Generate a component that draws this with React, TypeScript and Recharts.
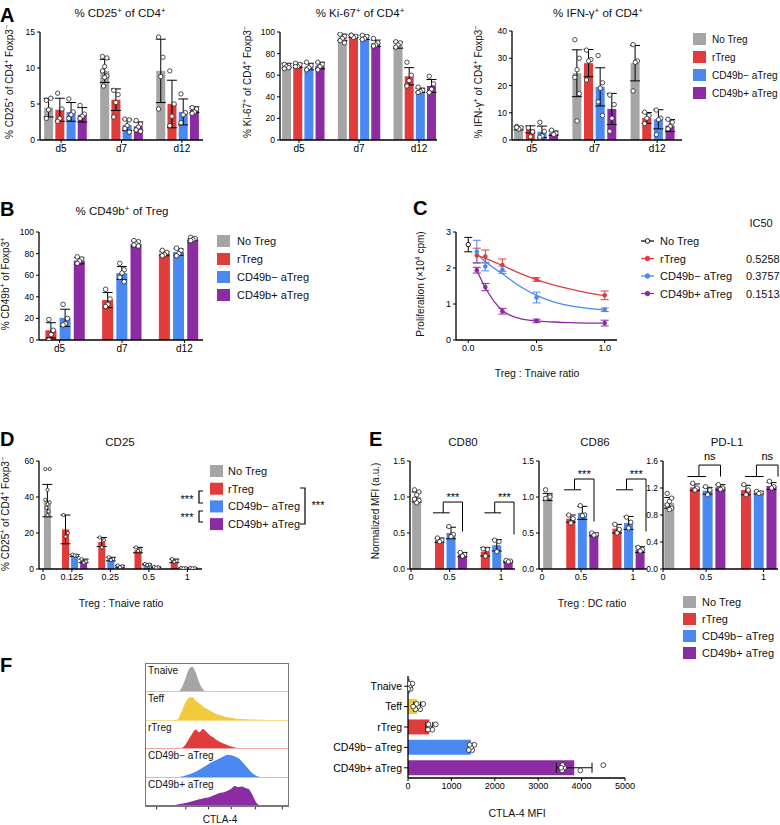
import React from 'react';
import {
  ComposedChart, Bar, Cell, ErrorBar, Scatter, Line, XAxis, YAxis, ReferenceLine, AreaChart, Area,
} from 'recharts';

const FONT = '"Liberation Sans", Arial, Helvetica, sans-serif';
const GRAY = '#a5a5a5';
const RED = '#e03c3b';
const BLUE = '#4a88f2';
const PURPLE = '#8b2ca2';
const YELLOW = '#f3ca3c';

const SERIES = ['No Treg', 'rTreg', 'CD49b− aTreg', 'CD49b+ aTreg'];
const SERIES_COLORS = [GRAY, RED, BLUE, PURPLE];

// ---- A ----
const DAYS = ['d5', 'd7', 'd12'];

const cd25Mean = [[4.5, 9.6, 9.6], [4.2, 5.6, 5.0], [3.9, 2.1, 3.9], [3.5, 1.9, 4.2]];
const cd25Sd = [[1.3, 1.6, 4.4], [1.6, 1.5, 3.3], [1.3, 0.8, 1.8], [1.0, 0.6, 0.4]];
const cd25Reps = [
  [[5.5, 5.8, 4.2, 3.0], [11.6, 11.4, 10.2, 9.6, 8.9, 8.7, 7.5], [14.3, 11.5, 8.8, 4.3]],
  [[6.5, 4.3, 3.0, 2.6], [6.9, 6.3, 5.2, 3.2], [9.6, 5.0, 3.3, 2.0]],
  [[5.7, 3.9, 3.5, 3.0], [2.9, 2.8, 2.0, 1.6, 1.1], [6.4, 3.8, 3.5, 2.4]],
  [[4.8, 3.6, 3.3, 3.0], [2.7, 2.2, 1.8, 1.4, 1.2], [4.5, 4.3, 3.9, 3.7]],
];

const ki67Mean = [[69, 95, 88], [69, 96, 59], [68, 95, 46], [69, 89.5, 50]];
const ki67Sd = [[2, 3, 3], [2, 1, 8], [3, 2, 2], [3, 3, 6]];
const ki67Reps = [
  [[70, 69, 68, 66, 67], [98, 96, 94, 92, 90], [91, 90, 88, 86]],
  [[71, 70, 68, 68], [97, 96, 95, 97], [72, 60, 55, 50]],
  [[72, 69, 67, 65], [97, 96, 94, 93], [49, 46, 45, 44]],
  [[72, 70, 68, 65], [94, 90, 88, 87], [59, 52, 47, 44]],
];

const ifngMean = [[4.3, 24.5, 28.2], [3.9, 28.2, 8.1], [3.0, 19.5, 7.6], [2.5, 11.4, 5.3]];
const ifngSd = [[0.6, 8.6, 6.5], [1.3, 5, 2], [2.1, 7, 3.5], [0.8, 5.7, 2.2]];
const ifngReps = [
  [[5.0, 4.5, 4.0, 4.6], [36.8, 30, 25.8, 23, 17, 7], [35, 29, 28.5, 18]],
  [[4.5, 3.0, 1.2], [33, 29.5, 29, 22], [10.2, 9, 8, 6]],
  [[6.5, 3.2, 1.5, 1.0], [31, 21, 19, 14, 9], [11, 8, 7.5, 2]],
  [[3.6, 2.5, 2.0], [16.5, 13, 8, 3.2], [7.6, 6.5, 5, 4.1]],
];

// ---- B ----
const cd49Mean = [[null, null, null], [9, 37, 80], [20.5, 62, 81.5], [73.5, 89, 93]];
const cd49Sd = [[null, null, null], [7, 7, 2], [8, 6, 3], [3, 2.5, 1]];
const cd49Reps = [
  [[], [], []],
  [[19, 9, 5, 0], [47, 38, 33, 31], [83, 81, 79, 78]],
  [[33, 20, 15, 14], [71, 65, 62, 58, 54], [85, 83, 80, 78]],
  [[77, 75, 73, 71], [92, 91, 89, 88, 87], [95, 94, 93, 92]],
];

// ---- C ----
const C_RATIOS = [0.0625, 0.125, 0.25, 0.5, 1];
const C_NOTREG = [2.65];
const C_NOTREG_ERR = [0.2];
const C_RTREG = [2.35, 2.32, 2.08, 1.68, 1.24];
const C_RTREG_ERR = [0.2, 0.18, 0.17, 0.05, 0.12];
const C_NEG = [2.45, 2.04, 1.95, 1.18, 0.84];
const C_NEG_ERR = [0.32, 0.12, 0.1, 0.15, 0.05];
const C_POS = [1.94, 1.47, 0.8, 0.53, 0.47];
const C_POS_ERR = [0.08, 0.1, 0.08, 0.05, 0.08];
const FIT_X = [0.0625, 0.125, 0.1875, 0.25, 0.375, 0.5, 0.625, 0.75, 0.875, 1];
const FIT_RTREG = [2.36, 2.27, 2.17, 2.07, 1.86, 1.68, 1.53, 1.41, 1.31, 1.23];
const FIT_NEG = [2.38, 2.18, 2.0, 1.84, 1.5, 1.24, 1.06, 0.95, 0.88, 0.84];
const FIT_POS = [1.94, 1.45, 1.08, 0.82, 0.6, 0.53, 0.5, 0.48, 0.47, 0.47];
const IC50 = ['', '0.5258', '0.3757', '0.1513'];

// ---- D ----
const D_RATIOS = ['0', '0.125', '0.25', '0.5', '1'];
const dMean = [[38, null, null, null, null], [null, 22, 15, 10.5, 4.5], [null, 7.5, 5.5, 2.5, 0.5], [null, 4.5, 1.5, 1, 0.5]];
const dSd = [[9, null, null, null, null], [null, 8, 2.5, 1.5, 1], [null, 0.5, 1, 0.3, 0.1], [null, 1, 0.5, 0.2, 0.1]];
const dReps = [
  [[55.5, 55.5, 44, 38.5, 37, 36, 34, 32, 30], [], [], [], []],
  [[], [30, 20, 18], [17.5, 16, 12], [12, 10.5, 10], [5.5, 4.5, 4]],
  [[], [8, 7.5, 7.5], [6.5, 5.5, 5], [2.8, 2.5, 2.2], [0.6, 0.5, 0.4]],
  [[], [5.5, 4.2, 3.5], [2, 1.5, 1], [1.2, 1, 0.8], [0.6, 0.5, 0.4]],
];

// ---- E ----
const E_RATIOS = ['0', '0.5', '1'];
const cd80Mean = [[1.0, null, null], [null, 0.4, 0.24], [null, 0.5, 0.33], [null, 0.2, 0.1]];
const cd80Sd = [[0.07, null, null], [null, 0.03, 0.06], [null, 0.08, 0.08], [null, 0.03, 0.01]];
const cd80Reps = [
  [[1.1, 1.07, 1.03, 0.97, 0.95, 0.92], [], []],
  [[], [0.43, 0.4, 0.38], [0.28, 0.27, 0.18]],
  [[], [0.59, 0.48, 0.45], [0.4, 0.38, 0.24]],
  [[], [0.23, 0.2, 0.18], [0.12, 0.11, 0.1]],
];
const cd86Mean = [[1.0, null, null], [null, 0.7, 0.56], [null, 0.78, 0.64], [null, 0.48, 0.27]];
const cd86Sd = [[0.05, null, null], [null, 0.05, 0.06], [null, 0.09, 0.09], [null, 0.02, 0.04]];
const cd86Reps = [
  [[1.1, 1.02, 0.99, 0.98, 1.0], [], []],
  [[], [0.75, 0.7, 0.64], [0.62, 0.55, 0.5]],
  [[], [0.88, 0.75, 0.74], [0.72, 0.65, 0.57]],
  [[], [0.5, 0.48, 0.47], [0.3, 0.27, 0.25]],
];
const pdl1Mean = [[0.98, null, null], [null, 1.21, 1.17], [null, 1.16, 1.13], [null, 1.21, 1.23]];
const pdl1Sd = [[0.08, null, null], [null, 0.05, 0.07], [null, 0.05, 0.02], [null, 0.04, 0.05]];
const pdl1Reps = [
  [[1.12, 1.05, 1.0, 0.95, 0.9, 0.88], [], []],
  [[], [1.27, 1.2, 1.17], [1.25, 1.17, 1.1]],
  [[], [1.22, 1.17, 1.1], [1.15, 1.13, 1.12]],
  [[], [1.25, 1.2, 1.18], [1.3, 1.22, 1.2]],
];
const CD80_BRACKETS = [
  { group: 1, low: 0.78, high: 0.93, drop: 0.52, text: '***' },
  { group: 2, low: 0.78, high: 0.93, drop: 0.48, text: '***' },
];
const CD86_BRACKETS = [
  { group: 1, low: 1.1, high: 1.25, drop: 0.66, text: '***' },
  { group: 2, low: 1.1, high: 1.25, drop: 0.52, text: '***' },
];
const PDL1_BRACKETS = [
  { group: 1, low: 1.37, high: 1.54, drop: 1.37, text: 'ns' },
  { group: 2, low: 1.37, high: 1.54, drop: 1.37, text: 'ns' },
];

// ---- F ----
const F_CELLS = ['Tnaive', 'Teff', 'rTreg', 'CD49b− aTreg', 'CD49b+ aTreg'];
const F_COLORS = [GRAY, YELLOW, RED, BLUE, PURPLE];
const F_LINE = ['#c8c8c8', '#f3dc8c', '#f0a5a5', '#a9c6f5', '#777'];
const F_MFI = [50, 210, 490, 1450, 3830];
const F_SD = [40, 80, 80, 50, 410];
const F_REPS = [
  [100, 60, 30, 10, 0],
  [350, 280, 230, 200, 170, 120],
  [640, 560, 480, 470, 460],
  [1530, 1480, 1450, 1420, 1400],
  [4500, 3970, 3600, 3560, 3550, 3530],
];
const HIST_X = Array.from({ length: 41 }, (_, i) => i * 2.5);
const HIST = [
  [0, 0, 0, 0, 0, 0, 0, 0, 0, 0.03, 0.15, 0.45, 0.8, 0.9, 0.7, 0.35, 0.12, 0.03, 0, 0, 0, 0, 0, 0, 0, 0, 0, 0, 0, 0, 0, 0, 0, 0, 0, 0, 0, 0, 0, 0, 0],
  [0, 0, 0, 0, 0, 0, 0, 0, 0, 0.05, 0.3, 0.6, 0.78, 0.82, 0.7, 0.6, 0.5, 0.42, 0.35, 0.28, 0.22, 0.18, 0.14, 0.11, 0.09, 0.07, 0.06, 0.05, 0.04, 0.035, 0.03, 0.025, 0.02, 0.02, 0.015, 0.012, 0.01, 0.008, 0.005, 0.003, 0],
  [0, 0, 0, 0, 0, 0, 0, 0, 0, 0, 0.04, 0.15, 0.35, 0.55, 0.7, 0.6, 0.72, 0.62, 0.5, 0.42, 0.32, 0.25, 0.2, 0.15, 0.1, 0.07, 0.04, 0.02, 0.01, 0, 0, 0, 0, 0, 0, 0, 0, 0, 0, 0, 0],
  [0, 0, 0, 0, 0, 0, 0, 0, 0, 0, 0.03, 0.06, 0.1, 0.15, 0.2, 0.27, 0.35, 0.42, 0.5, 0.56, 0.62, 0.68, 0.75, 0.8, 0.78, 0.74, 0.68, 0.56, 0.42, 0.28, 0.15, 0.06, 0.02, 0, 0, 0, 0, 0, 0, 0, 0],
  [0, 0, 0, 0, 0, 0.01, 0.02, 0.03, 0.05, 0.07, 0.09, 0.12, 0.15, 0.18, 0.22, 0.25, 0.28, 0.3, 0.33, 0.38, 0.44, 0.48, 0.5, 0.55, 0.62, 0.72, 0.68, 0.7, 0.65, 0.6, 0.4, 0.15, 0.04, 0, 0, 0, 0, 0, 0, 0, 0],
];
const HIST_TICKS = [0, 1.5, 3, 4.5, 6, 7.5, 17, 25, 28, 31, 33, 35, 36, 37, 38, 39, 41, 44, 57, 60, 64, 66, 68, 70, 72, 73, 77, 85, 88, 90, 92, 96];

const JITTER = [-2.2, 2.2, 0, -2.2, 2.2, 0, -1.1, 1.1, 0];

const axisLine = { stroke: '#000', strokeWidth: 1.3 };
const tickLine = { stroke: '#000', strokeWidth: 1 };

function buildSlots(groups, means, sds, reps) {
  const rows = [];
  const centers = [];
  const starts = [];
  groups.forEach((g, gi) => {
    if (gi > 0) rows.push({ id: 'gap' + gi, mean: null, sd: null, color: 'none' });
    const first = rows.length;
    means.forEach((m, si) => {
      if (m[gi] == null) return;
      const row = { id: g + '_' + si, mean: m[gi], sd: sds[si][gi], color: SERIES_COLORS[si] };
      reps[si][gi].forEach((v, ri) => { row['r' + ri] = v; });
      rows.push(row);
    });
    starts.push(first);
    centers.push((first + rows.length - 1) / 2);
  });
  return { rows, centers, starts };
}

function dot(i, r, vertical) {
  return (p) => {
    if (!Number.isFinite(p.cx) || !Number.isFinite(p.cy)) return <g />;
    const j = JITTER[i % JITTER.length];
    return (
      <circle
        cx={vertical ? p.cx : p.cx + j}
        cy={vertical ? p.cy + j * 1.2 : p.cy}
        r={r}
        fill="#fff"
        stroke="#222"
        strokeWidth={0.8}
      />
    );
  };
}

function SlotBars({ box, groups, means, sds, reps, yDomain, yTicks, yFmt, dotR = 2.2, brackets = [], padTop = 6, catFont = 10, padL = 0, padR = 0 }) {
  const { rows, centers, starts } = buildSlots(groups, means, sds, reps);
  const n = rows.length;
  const yW = 26, xH = 20, pad = 6;
  const width = box.x1 - box.x0 + yW + pad * 2;
  const height = box.y1 - box.y0 + padTop + xH;
  const maxReps = Math.max(...reps.flat().map((r) => r.length));
  const xPad = { left: padL, right: padR };
  return (
    <div style={{ position: 'absolute', left: box.x0 - yW - pad, top: box.y0 - padTop }}>
      <ComposedChart width={width} height={height} data={rows} margin={{ top: padTop, right: pad, bottom: 0, left: pad }} barCategoryGap="10%">
        <XAxis dataKey="id" hide height={0} padding={xPad} />
        <XAxis
          xAxisId="n"
          type="number"
          domain={[-0.5, n - 0.5]}
          allowDataOverflow
          padding={xPad}
          ticks={centers}
          tickFormatter={(v) => groups[centers.indexOf(v)] ?? ''}
          axisLine={axisLine}
          tickLine={tickLine}
          tickSize={3}
          height={xH}
          tick={{ fontSize: catFont, fill: '#000', fontFamily: FONT }}
        />
        <YAxis
          type="number"
          domain={yDomain}
          ticks={yTicks}
          allowDataOverflow
          tickFormatter={yFmt}
          width={yW}
          axisLine={axisLine}
          tickLine={tickLine}
          tickSize={3}
          tick={{ fontSize: 8.5, fill: '#000', fontFamily: FONT }}
        />
        <Bar dataKey="mean" isAnimationActive={false}>
          {rows.map((r) => <Cell key={r.id} fill={r.color} />)}
          <ErrorBar dataKey="sd" width={5} stroke="#000" strokeWidth={1} />
        </Bar>
        {Array.from({ length: maxReps }).map((_, i) => (
          <Scatter key={i} dataKey={'r' + i} isAnimationActive={false} shape={dot(i, dotR, false)} />
        ))}
        {brackets.map((b, bi) => {
          const s = starts[b.group];
          const seg = (x1, y1, x2, y2, label) => (
            <ReferenceLine
              xAxisId="n"
              segment={[{ x: x1, y: y1 }, { x: x2, y: y2 }]}
              stroke="#000"
              strokeWidth={1}
              ifOverflow="visible"
              label={label ? { value: label, position: 'top', offset: label === 'ns' ? 5 : 1, fontSize: 11, fill: '#000', fontFamily: FONT } : undefined}
            />
          );
          return (
            <React.Fragment key={bi}>
              {seg(s - 0.3, b.low, s + 1, b.low)}
              {seg(s + 0.5, b.low, s + 0.5, b.high)}
              {seg(s + 0.5, b.high, s + 2, b.high, b.text)}
              {seg(s + 2, b.high, s + 2, b.drop)}
            </React.Fragment>
          );
        })}
      </ComposedChart>
    </div>
  );
}

function ProliferationChart() {
  const box = { x0: 456, x1: 617, y0: 232, y1: 340 };
  const yW = 22, xH = 20, pad = 6;
  const pts = (vals, errs, xs) => vals.map((y, i) => ({ x: xs[i], y, err: errs[i] }));
  const fit = (vals) => vals.map((y, i) => ({ x: FIT_X[i], y }));
  const series = [
    { color: RED, data: pts(C_RTREG, C_RTREG_ERR, C_RATIOS), fit: fit(FIT_RTREG) },
    { color: BLUE, data: pts(C_NEG, C_NEG_ERR, C_RATIOS), fit: fit(FIT_NEG) },
    { color: PURPLE, data: pts(C_POS, C_POS_ERR, C_RATIOS), fit: fit(FIT_POS) },
  ];
  return (
    <div style={{ position: 'absolute', left: box.x0 - yW - pad, top: box.y0 - pad }}>
      <ComposedChart width={box.x1 - box.x0 + yW + 2 * pad} height={box.y1 - box.y0 + pad + xH} margin={{ top: pad, right: pad, bottom: 0, left: pad }}>
        <XAxis
          dataKey="x"
          type="number"
          domain={[-0.09, 1.09]}
          allowDataOverflow
          ticks={[0, 0.5, 1]}
          tickFormatter={(v) => v.toFixed(1)}
          axisLine={axisLine}
          tickLine={tickLine}
          tickSize={3}
          height={xH}
          tick={{ fontSize: 9, fill: '#000', fontFamily: FONT }}
        />
        <YAxis
          type="number"
          domain={[0, 3]}
          ticks={[0, 1, 2, 3]}
          allowDataOverflow
          width={yW}
          axisLine={axisLine}
          tickLine={tickLine}
          tickSize={3}
          tick={{ fontSize: 9, fill: '#000', fontFamily: FONT }}
        />
        {series.map((s, i) => (
          <Line key={'l' + i} data={s.fit} dataKey="y" type="monotone" stroke={s.color} strokeWidth={1.3} dot={false} isAnimationActive={false} />
        ))}
        {series.map((s, i) => (
          <Scatter
            key={'s' + i}
            data={s.data}
            dataKey="y"
            isAnimationActive={false}
            shape={(p) => <circle cx={p.cx} cy={p.cy} r={2.3} fill={s.color} />}
          >
            <ErrorBar dataKey="err" direction="y" width={4} stroke={s.color} strokeWidth={1} />
          </Scatter>
        ))}
        <Scatter
          data={pts(C_NOTREG, C_NOTREG_ERR, [0])}
          dataKey="y"
          isAnimationActive={false}
          shape={(p) => <circle cx={p.cx} cy={p.cy} r={2.2} fill="#fff" stroke="#000" strokeWidth={0.9} />}
        >
          <ErrorBar dataKey="err" direction="y" width={4} stroke="#000" strokeWidth={1} />
        </Scatter>
      </ComposedChart>
    </div>
  );
}

function MfiChart() {
  const box = { x0: 408, x1: 625, y0: 676, y1: 778 };
  const yW = 100, xH = 20, pad = 6;
  const rows = F_CELLS.map((name, i) => {
    const row = { name, mean: F_MFI[i], sd: F_SD[i] };
    F_REPS[i].forEach((v, ri) => { row['r' + ri] = v; });
    return row;
  });
  const maxReps = Math.max(...F_REPS.map((r) => r.length));
  return (
    <div style={{ position: 'absolute', left: box.x0 - yW - pad, top: box.y0 - pad }}>
      <ComposedChart
        layout="vertical"
        width={box.x1 - box.x0 + yW + 2 * pad + 6}
        height={box.y1 - box.y0 + pad + xH}
        data={rows}
        margin={{ top: pad, right: pad + 6, bottom: 0, left: pad }}
        barCategoryGap="13%"
      >
        <XAxis
          type="number"
          domain={[0, 5000]}
          ticks={[0, 1000, 2000, 3000, 4000, 5000]}
          allowDataOverflow
          axisLine={axisLine}
          tickLine={tickLine}
          tickSize={3}
          height={xH}
          tick={{ fontSize: 9, fill: '#000', fontFamily: FONT }}
        />
        <YAxis
          type="category"
          dataKey="name"
          width={yW}
          axisLine={axisLine}
          tickLine={tickLine}
          tickSize={4}
          tick={{ fontSize: 10.5, fill: '#000', fontFamily: FONT }}
        />
        <Bar dataKey="mean" isAnimationActive={false}>
          {rows.map((r, i) => <Cell key={r.name} fill={F_COLORS[i]} />)}
          <ErrorBar dataKey="sd" direction="x" width={5} stroke="#000" strokeWidth={1} />
        </Bar>
        {Array.from({ length: maxReps }).map((_, i) => (
          <Scatter key={i} dataKey={'r' + i} isAnimationActive={false} shape={dot(i, 2.4, true)} />
        ))}
      </ComposedChart>
    </div>
  );
}

function Histograms() {
  const left = 146, top = 664, w = 142, rowH = 28.4;
  return (
    <div style={{ position: 'absolute', left, top, width: w, height: rowH * 5 }}>
      {HIST.map((h, i) => {
        const data = HIST_X.map((x, k) => ({ x, h: h[k] }));
        const last = i === HIST.length - 1;
        return (
          <div key={i} style={{ position: 'absolute', left: 0, top: i * rowH }}>
            <AreaChart width={w} height={rowH + (last ? 6 : 0)} data={data} margin={{ top: 0, right: 0, bottom: 0, left: 0 }}>
              <XAxis
                dataKey="x"
                type="number"
                domain={[0, 100]}
                hide={!last}
                height={last ? 6 : 0}
                ticks={HIST_TICKS}
                tick={() => <g />}
                axisLine={false}
                tickLine={{ stroke: '#222', strokeWidth: 1 }}
                tickSize={3}
              />
              <YAxis type="number" domain={[0, 1]} hide />
              <Area dataKey="h" type="monotone" stroke="none" fill={F_COLORS[i]} fillOpacity={1} isAnimationActive={false} />
            </AreaChart>
            <div
              style={{
                position: 'absolute', left: 0, top: rowH - 1, width: w, height: 1,
                background: F_LINE[i],
              }}
            />
            <div
              style={{
                position: 'absolute', left: 2, top: 1, fontSize: 10, fontFamily: FONT, color: '#111', whiteSpace: 'nowrap',
              }}
            >
              {F_CELLS[i]}
            </div>
          </div>
        );
      })}
      <div style={{ position: 'absolute', left: -1, top: -1, width: w, height: rowH * 5, border: '1px solid #777' }} />
    </div>
  );
}

function Rich({ x, y, text, size, anchor = 'middle', rotate = false, weight = 'normal' }) {
  const parts = text.split(/(\{[^}]*\})/).filter(Boolean);
  const sh = size * 0.38;
  let up = false;
  const spans = parts.map((p, i) => {
    if (p.startsWith('{')) {
      const el = <tspan key={i} dy={up ? 0 : -sh} fontSize={size * 0.7}>{p.slice(1, -1)}</tspan>;
      up = true;
      return el;
    }
    const el = <tspan key={i} dy={up ? sh : 0}>{p}</tspan>;
    up = false;
    return el;
  });
  return (
    <text
      x={rotate ? 0 : x}
      y={rotate ? 0 : y}
      transform={rotate ? `translate(${x},${y}) rotate(-90)` : undefined}
      textAnchor={anchor}
      fontSize={size}
      fontWeight={weight}
      fontFamily={FONT}
      fill="#111"
    >
      {spans}
    </text>
  );
}

function SwatchLegend({ x, y, step, dx = 20, size = 11 }) {
  return (
    <g>
      {SERIES.map((s, i) => (
        <g key={s}>
          <rect x={x} y={y + i * step - 6} width={13} height={12} fill={SERIES_COLORS[i]} />
          <text x={x + dx} y={y + i * step + 4} fontSize={size} fontFamily={FONT} fill="#111">{s}</text>
        </g>
      ))}
    </g>
  );
}

function Overlay() {
  const cRows = [241, 258.5, 276, 293.5];
  const cColors = ['#000', RED, BLUE, PURPLE];
  return (
    <svg width={780} height={825} style={{ position: 'absolute', left: 0, top: 0, pointerEvents: 'none' }}>
      {/* panel letters */}
      {[['A', 0, 22], ['B', 0, 216], ['C', 413, 215], ['D', 0, 446], ['E', 369, 446], ['F', 0, 672]].map(([t, x, y]) => (
        <text key={t} x={x} y={y} fontSize={20} fontWeight="bold" fontFamily={FONT} fill="#000">{t}</text>
      ))}

      {/* titles */}
      <Rich x={120} y={17} size={11.5} text="% CD25{+} of CD4{+}" />
      <Rich x={360} y={17} size={11.5} text="% Ki-67{+} of CD4{+}" />
      <Rich x={598} y={17} size={11.5} text="% IFN-γ{+} of CD4{+}" />
      <Rich x={122} y={215} size={11.5} text="% CD49b{+} of Treg" />
      <Rich x={120} y={446} size={11.5} text="CD25" />
      <Rich x={463} y={446} size={11.5} text="CD80" />
      <Rich x={595} y={446} size={11.5} text="CD86" />
      <Rich x={727} y={446} size={11.5} text="PD-L1" />

      {/* y labels */}
      <Rich x={13} y={82} size={10} rotate text="% CD25{+} of CD4{+} Foxp3{−}" />
      <Rich x={251} y={82} size={10} rotate text="% Ki-67{+} of CD4{+} Foxp3{−}" />
      <Rich x={482} y={82} size={10} rotate text="% IFN-γ{+} of CD4{+} Foxp3{−}" />
      <Rich x={9} y={284} size={10} rotate text="% CD49b{+} of Foxp3{+}" />
      <Rich x={424} y={284} size={10} rotate text="Proliferation (×10{4} cpm)" />
      <Rich x={9} y={514} size={10} rotate text="% CD25{+} of CD4{+} Foxp3{−}" />
      <Rich x={379} y={511} size={10} rotate text="Normalized MFI (a.u.)" />

      {/* x labels */}
      <Rich x={537} y={377} size={10.5} text="Treg : Tnaive ratio" />
      <Rich x={121} y={607} size={10.5} text="Treg : Tnaive ratio" />
      <Rich x={592} y={607} size={10.5} text="Treg : DC ratio" />
      <Rich x={220} y={823} size={10} text="CTLA-4" />
      <Rich x={517} y={817} size={10.5} text="CTLA-4 MFI" />

      {/* legends */}
      <SwatchLegend x={693} y={39} step={18} dx={19} size={10} />
      <SwatchLegend x={217} y={241} step={18} />
      <SwatchLegend x={210} y={471} step={17.7} dx={18} />
      <SwatchLegend x={683} y={602} step={17} dx={19} />

      {/* C legend */}
      <text x={761} y={227} fontSize={11} fontFamily={FONT} textAnchor="middle" fill="#111">IC50</text>
      {SERIES.map((s, i) => (
        <g key={s}>
          <line x1={641} x2={654} y1={cRows[i]} y2={cRows[i]} stroke={cColors[i]} strokeWidth={1.2} />
          <circle cx={647.5} cy={cRows[i]} r={2.3} fill={i === 0 ? '#fff' : cColors[i]} stroke={cColors[i]} strokeWidth={0.9} />
          <text x={660} y={cRows[i] + 4} fontSize={11} fontFamily={FONT} fill="#111">{s}</text>
          <text x={746} y={cRows[i] + 4} fontSize={11} fontFamily={FONT} fill="#111">{IC50[i]}</text>
        </g>
      ))}

      {/* D significance brackets */}
      <g stroke="#000" strokeWidth={1.2} fill="none">
        <polyline points="203,491 199,491 199,503 203,503" />
        <polyline points="203,511 199,511 199,522 203,522" />
        <polyline points="300,488 305,488 305,524 300,524" />
      </g>
      <text x={187} y={503} fontSize={11} fontFamily={FONT} textAnchor="middle" fill="#000">***</text>
      <text x={187} y={521} fontSize={11} fontFamily={FONT} textAnchor="middle" fill="#000">***</text>
      <text x={318} y={509} fontSize={11} fontFamily={FONT} textAnchor="middle" fill="#000">***</text>
    </svg>
  );
}

export default function App() {
  const f1 = (v) => v.toFixed(1);
  return (
    <div style={{ position: 'absolute', left: 0, top: 0, width: 780, height: 825, background: '#fff', overflow: 'hidden' }}>
      <SlotBars box={{ x0: 40, x1: 203, y0: 32, y1: 140 }} groups={DAYS} means={cd25Mean} sds={cd25Sd} reps={cd25Reps} yDomain={[0, 15]} yTicks={[0, 5, 10, 15]} padL={3} padR={3} />
      <SlotBars box={{ x0: 280, x1: 437, y0: 32, y1: 140 }} groups={DAYS} means={ki67Mean} sds={ki67Sd} reps={ki67Reps} yDomain={[0, 100]} yTicks={[0, 20, 40, 60, 80, 100]} padL={1} />
      <SlotBars box={{ x0: 512, x1: 682, y0: 31, y1: 140 }} groups={DAYS} means={ifngMean} sds={ifngSd} reps={ifngReps} yDomain={[0, 40]} yTicks={[0, 10, 20, 30, 40]} padL={1} padR={6} />
      <SlotBars box={{ x0: 39, x1: 203, y0: 232, y1: 340 }} groups={DAYS} means={cd49Mean} sds={cd49Sd} reps={cd49Reps} yDomain={[0, 100]} yTicks={[0, 20, 40, 60, 80, 100]} dotR={2.3} padL={5} padR={3} />
      <ProliferationChart />
      <SlotBars box={{ x0: 39, x1: 202, y0: 461, y1: 569 }} groups={D_RATIOS} means={dMean} sds={dSd} reps={dReps} yDomain={[0, 60]} yTicks={[0, 20, 40, 60]} dotR={1.6} catFont={9} padL={4} padR={5} />
      <SlotBars box={{ x0: 410, x1: 515, y0: 461, y1: 569 }} groups={E_RATIOS} means={cd80Mean} sds={cd80Sd} reps={cd80Reps} yDomain={[0, 1.5]} yTicks={[0, 0.5, 1, 1.5]} yFmt={f1} brackets={CD80_BRACKETS} padTop={16} catFont={9} padL={1} padR={1} />
      <SlotBars box={{ x0: 539, x1: 647, y0: 461, y1: 569 }} groups={E_RATIOS} means={cd86Mean} sds={cd86Sd} reps={cd86Reps} yDomain={[0, 1.5]} yTicks={[0, 0.5, 1, 1.5]} yFmt={f1} brackets={CD86_BRACKETS} padTop={16} catFont={9} padL={3} padR={1} />
      <SlotBars box={{ x0: 663, x1: 778, y0: 461, y1: 569 }} groups={E_RATIOS} means={pdl1Mean} sds={pdl1Sd} reps={pdl1Reps} yDomain={[0, 1.6]} yTicks={[0, 0.4, 0.8, 1.2, 1.6]} yFmt={f1} brackets={PDL1_BRACKETS} padTop={16} catFont={9} />
      <Histograms />
      <MfiChart />
      <Overlay />
    </div>
  );
}
